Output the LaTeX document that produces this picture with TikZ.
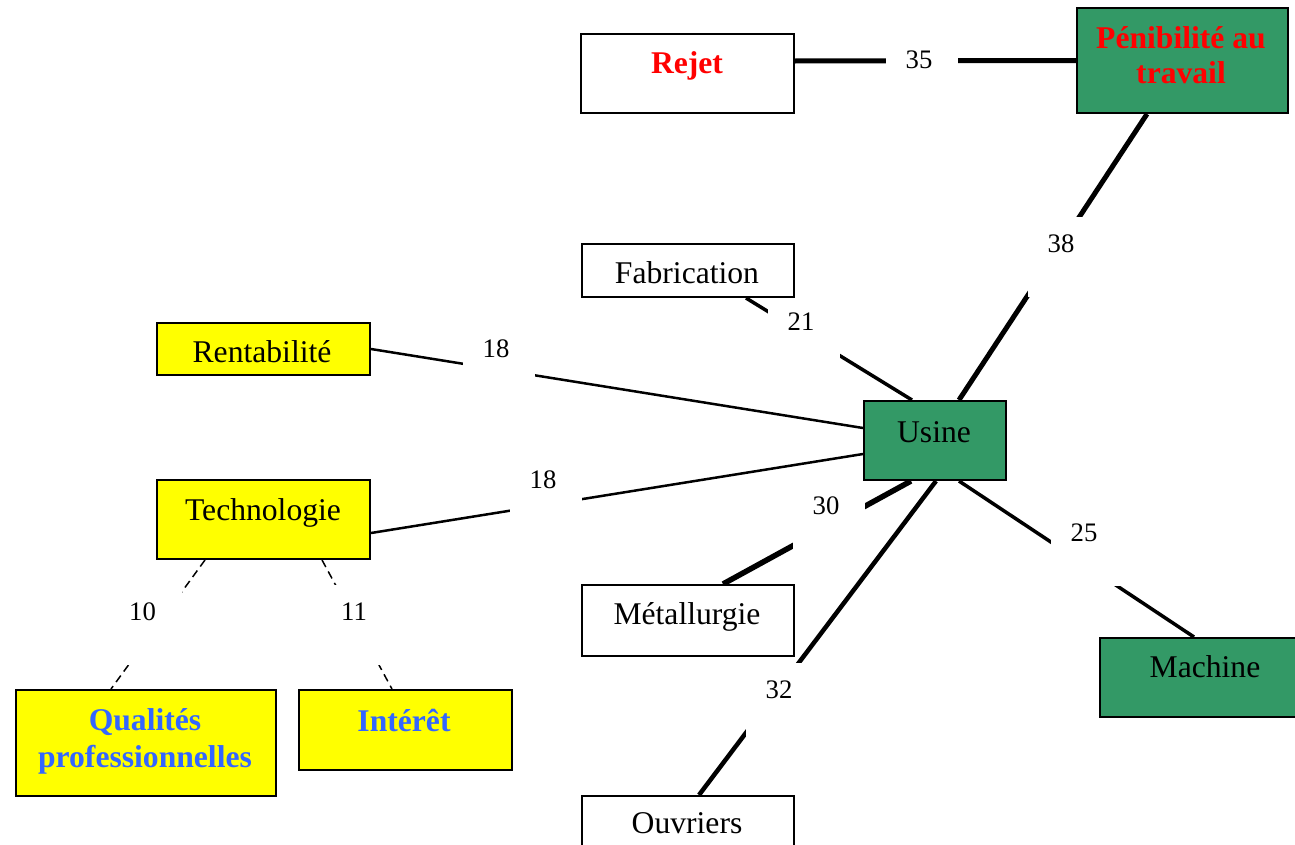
\documentclass[tikz,border=0pt]{standalone}
\usepackage{fontspec}
\setmainfont{Liberation Serif}
\usetikzlibrary{calc}
\pgfdeclarelayer{background}
\pgfsetlayers{background,main}
\newdimen\pxu \pxu=0.02cm
\definecolor{seagr}{HTML}{339966}
\definecolor{bluet}{HTML}{3366FF}
\definecolor{yel}{HTML}{FFFF00}
\definecolor{redt}{HTML}{FF0000}
\begin{document}
\begin{tikzpicture}[x=0.02cm,y=-0.02cm,
  box/.style={draw=black, line width=2\pxu, inner sep=0, anchor=north west},
  wbox/.style={box, fill=white},
  ybox/.style={box, fill=yel},
  gbox/.style={box, fill=seagr},
  txt/.style={anchor=base, inner sep=0, font=\fontsize{18pt}{20pt}\selectfont},
  rtxt/.style={txt, text=redt, font=\fontsize{18pt}{19.9pt}\selectfont\bfseries, align=center},
  btxt/.style={txt, text=bluet, font=\fontsize{18pt}{21pt}\selectfont\bfseries, align=center},
  lbl/.style={fill=white, inner sep=0, minimum width=72\pxu, text height=35\pxu, text depth=45\pxu, anchor=north, font=\fontsize{15.2pt}{17pt}\selectfont},
  lk/.style={line width=#1\pxu, line cap=butt}
]
\useasboundingbox (0,0) rectangle (1295,845);
\clip (0,0) rectangle (1295,845);
\begin{pgfonlayer}{background}
\fill[white] (0,0) rectangle (1295,845);
\end{pgfonlayer}

% boxes
\node[wbox, minimum width=213\pxu, minimum height=79\pxu] (rejet) at (580,33) {};
\node[gbox, minimum width=211\pxu, minimum height=105\pxu] (penib) at (1076,7) {};
\node[wbox, minimum width=212\pxu, minimum height=53\pxu] (fab) at (581,243) {};
\node[ybox, minimum width=213\pxu, minimum height=52\pxu] (rent) at (156,322) {};
\node[gbox, minimum width=142\pxu, minimum height=79\pxu] (usine) at (863,400) {};
\node[ybox, minimum width=213\pxu, minimum height=79\pxu] (tech) at (156,479) {};
\node[wbox, minimum width=212\pxu, minimum height=71\pxu] (met) at (581,584) {};
\node[gbox, minimum width=212\pxu, minimum height=79\pxu] (mach) at (1099,637) {};
\node[wbox, minimum width=212\pxu, minimum height=79\pxu] (ouv) at (581,795) {};
\node[ybox, minimum width=260\pxu, minimum height=106\pxu] (qual) at (15,689) {};
\node[ybox, minimum width=213\pxu, minimum height=80\pxu] (inter) at (298,689) {};

% texts
\node[rtxt] (t-rejet) at (687,73) {Rejet};
\node[rtxt] (t-penib) at (1181,83) {Pénibilité au\\travail};
\node[txt] (t-fab) at (687,283) {Fabrication};
\node[txt] (t-rent) at (262,362) {Rentabilité};
\node[txt] (t-usine) at (934,442) {Usine};
\node[txt] (t-tech) at (263,520) {Technologie};
\node[txt] (t-met) at (687,624) {Métallurgie};
\node[txt] (t-mach) at (1205,677) {Machine};
\node[txt] (t-ouv) at (687,833) {Ouvriers};
\node[btxt] (t-qual) at (145,767) {Qualités\\professionnelles};
\node[btxt] (t-inter) at (404,731) {Intérêt};

\begin{pgfonlayer}{background}
% connectors
\draw[lk=5] ($(rejet.east)+(0,-12.5)$) -- (penib.west);
\draw[lk=5] ($(penib.south)+(-35.5,0)$) -- ($(usine.north)+(24,0)$);
\draw[lk=3.5] ($(fab.south)+(58,0)$) -- ($(usine.north)+(-23,0)$);
\draw[lk=2.5] (rent.east) -- ($(usine.west)+(0,-12.5)$);
\draw[lk=2.5] ($(tech.east)+(0,13.5)$) -- ($(usine.west)+(0,13.5)$);
\draw[lk=5.5] ($(met.north)+(35,0)$) -- ($(usine.south)+(-24,0)$);
\draw[lk=4.5] ($(ouv.north)+(11,0)$) -- ($(usine.south)+(1,0)$);
\draw[lk=3.5] ($(mach.north)+(-12,0)$) -- ($(usine.south)+(24,0)$);
\draw[lk=1.5, dash pattern=on 8\pxu off 5\pxu] ($(tech.south)+(-58.5,0)$) -- ($(qual.north)+(-35,0)$);
\draw[lk=1.5, dash pattern=on 8\pxu off 5\pxu] ($(tech.south)+(58.5,0)$) -- ($(inter.north)+(-13.5,0)$);
% labels
\node[lbl] (l35) at (922,33) {\hspace*{-6\pxu}35};
\node[lbl] (l38) at (1064,217) {\hspace*{-6\pxu}38};
\node[lbl] (l21) at (804,295) {\hspace*{-6\pxu}21};
\node[lbl] (l18a) at (499,322) {\hspace*{-6\pxu}18};
\node[lbl] (l18b) at (546,453) {\hspace*{-6\pxu}18};
\node[lbl] (l30) at (829,479) {\hspace*{-6\pxu}30};
\node[lbl] (l25) at (1087,506) {\hspace*{-6\pxu}25};
\node[lbl] (l32) at (782,663) {\hspace*{-6\pxu}32};
\node[lbl] (l10) at (145.5,585) {\hspace*{-6\pxu}10};
\node[lbl] (l11) at (357,585) {\hspace*{-6\pxu}11};
\end{pgfonlayer}
\end{tikzpicture}
\end{document}
